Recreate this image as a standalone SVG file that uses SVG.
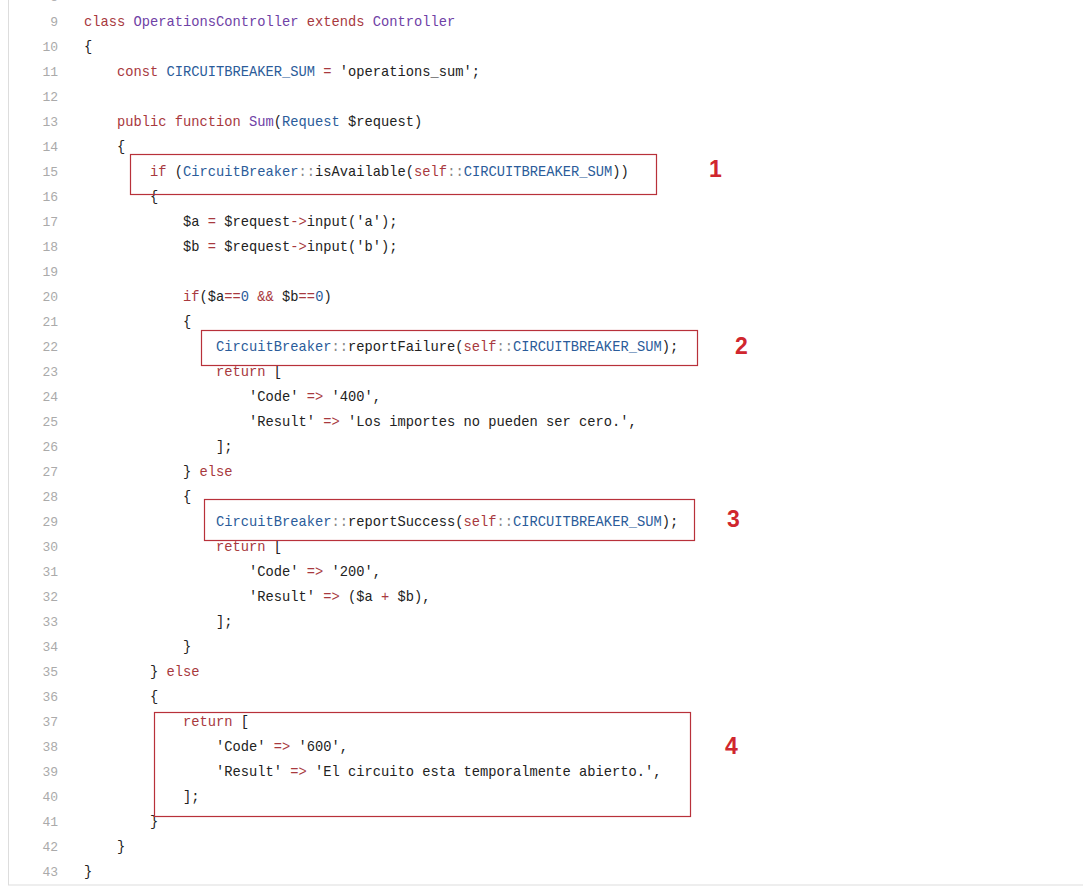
<svg xmlns="http://www.w3.org/2000/svg" width="1083" height="891" viewBox="0 0 1083 891">
<style>
.c{font-family:"Liberation Mono","DejaVu Sans Mono",monospace;font-size:13.75px;fill:#222;white-space:pre}
.n{font-family:"Liberation Mono","DejaVu Sans Mono",monospace;font-size:13px;fill:#aaa;text-anchor:end}
.k{fill:#a8393e}.p{fill:#6f42a6}.b{fill:#2b5c9a}.g{fill:#888}
.box{fill:none;stroke:#b8313a;stroke-width:1.2}
.lab{font-family:"Liberation Sans",Arial,sans-serif;font-size:23px;font-weight:bold;fill:#d0262e}
</style>
<rect width="1083" height="891" fill="#fff"/>
<rect x="8.5" y="-2" width="1080" height="887" fill="none" stroke="#ddd"/>
<g id="gutter">
<text class="n" x="58" y="1">8</text>
<text class="n" x="58" y="26">9</text><text class="n" x="58" y="51">10</text><text class="n" x="58" y="76">11</text><text class="n" x="58" y="101">12</text><text class="n" x="58" y="126">13</text><text class="n" x="58" y="151">14</text><text class="n" x="58" y="176">15</text><text class="n" x="58" y="201">16</text><text class="n" x="58" y="226">17</text><text class="n" x="58" y="251">18</text><text class="n" x="58" y="276">19</text><text class="n" x="58" y="301">20</text><text class="n" x="58" y="326">21</text><text class="n" x="58" y="351">22</text><text class="n" x="58" y="376">23</text><text class="n" x="58" y="401">24</text><text class="n" x="58" y="426">25</text><text class="n" x="58" y="451">26</text><text class="n" x="58" y="476">27</text><text class="n" x="58" y="501">28</text><text class="n" x="58" y="526">29</text><text class="n" x="58" y="551">30</text><text class="n" x="58" y="576">31</text><text class="n" x="58" y="601">32</text><text class="n" x="58" y="626">33</text><text class="n" x="58" y="651">34</text><text class="n" x="58" y="676">35</text><text class="n" x="58" y="701">36</text><text class="n" x="58" y="726">37</text><text class="n" x="58" y="751">38</text><text class="n" x="58" y="776">39</text><text class="n" x="58" y="801">40</text><text class="n" x="58" y="826">41</text><text class="n" x="58" y="851">42</text><text class="n" x="58" y="876">43</text>
</g>
<g id="code">
<text class="c" x="84" y="26"><tspan class="k">class</tspan> <tspan class="p">OperationsController</tspan> <tspan class="k">extends</tspan> <tspan class="p">Controller</tspan></text>
<text class="c" x="84" y="51">{</text>
<text class="c" x="117" y="76"><tspan class="k">const</tspan> <tspan class="b">CIRCUITBREAKER_SUM</tspan> <tspan class="k">=</tspan> 'operations_sum';</text>
<text class="c" x="117" y="126"><tspan class="k">public function</tspan> <tspan class="p">Sum</tspan>(<tspan class="b">Request</tspan> $request)</text>
<text class="c" x="117" y="151">{</text>
<text class="c" x="150" y="176"><tspan class="k">if</tspan> (<tspan class="b">CircuitBreaker</tspan><tspan class="g">::</tspan>isAvailable(<tspan class="k">self</tspan><tspan class="g">::</tspan><tspan class="b">CIRCUITBREAKER_SUM</tspan>))</text>
<text class="c" x="150" y="201">{</text>
<text class="c" x="183" y="226">$a <tspan class="k">=</tspan> $request<tspan class="k">-&gt;</tspan>input('a');</text>
<text class="c" x="183" y="251">$b <tspan class="k">=</tspan> $request<tspan class="k">-&gt;</tspan>input('b');</text>
<text class="c" x="183" y="301"><tspan class="k">if</tspan>($a<tspan class="k">==</tspan><tspan class="b">0</tspan> <tspan class="k">&amp;&amp;</tspan> $b<tspan class="k">==</tspan><tspan class="b">0</tspan>)</text>
<text class="c" x="183" y="326">{</text>
<text class="c" x="216" y="351"><tspan class="b">CircuitBreaker</tspan><tspan class="g">::</tspan>reportFailure(<tspan class="k">self</tspan><tspan class="g">::</tspan><tspan class="b">CIRCUITBREAKER_SUM</tspan>);</text>
<text class="c" x="216" y="376"><tspan class="k">return</tspan> [</text>
<text class="c" x="249" y="401">'Code' <tspan class="k">=&gt;</tspan> '400',</text>
<text class="c" x="249" y="426">'Result' <tspan class="k">=&gt;</tspan> 'Los importes no pueden ser cero.',</text>
<text class="c" x="216" y="451">];</text>
<text class="c" x="183" y="476">} <tspan class="k">else</tspan></text>
<text class="c" x="183" y="501">{</text>
<text class="c" x="216" y="526"><tspan class="b">CircuitBreaker</tspan><tspan class="g">::</tspan>reportSuccess(<tspan class="k">self</tspan><tspan class="g">::</tspan><tspan class="b">CIRCUITBREAKER_SUM</tspan>);</text>
<text class="c" x="216" y="551"><tspan class="k">return</tspan> [</text>
<text class="c" x="249" y="576">'Code' <tspan class="k">=&gt;</tspan> '200',</text>
<text class="c" x="249" y="601">'Result' <tspan class="k">=&gt;</tspan> ($a <tspan class="k">+</tspan> $b),</text>
<text class="c" x="216" y="626">];</text>
<text class="c" x="183" y="651">}</text>
<text class="c" x="150" y="676">} <tspan class="k">else</tspan></text>
<text class="c" x="150" y="701">{</text>
<text class="c" x="183" y="726"><tspan class="k">return</tspan> [</text>
<text class="c" x="216" y="751">'Code' <tspan class="k">=&gt;</tspan> '600',</text>
<text class="c" x="216" y="776">'Result' <tspan class="k">=&gt;</tspan> 'El circuito esta temporalmente abierto.',</text>
<text class="c" x="183" y="801">];</text>
<text class="c" x="150" y="826">}</text>
<text class="c" x="117" y="851">}</text>
<text class="c" x="84" y="876">}</text>
</g>
<g id="box1"><rect class="box" x="130.5" y="154.5" width="526" height="40"/><text class="lab" x="709" y="177">1</text></g>
<g id="box2"><rect class="box" x="201.5" y="330.5" width="496" height="35"/><text class="lab" x="735" y="354">2</text></g>
<g id="box3"><rect class="box" x="204.5" y="499.5" width="490" height="41"/><text class="lab" x="727" y="527">3</text></g>
<g id="box4"><rect class="box" x="154.5" y="712.5" width="536" height="104"/><text class="lab" x="725" y="754">4</text></g>
</svg>
